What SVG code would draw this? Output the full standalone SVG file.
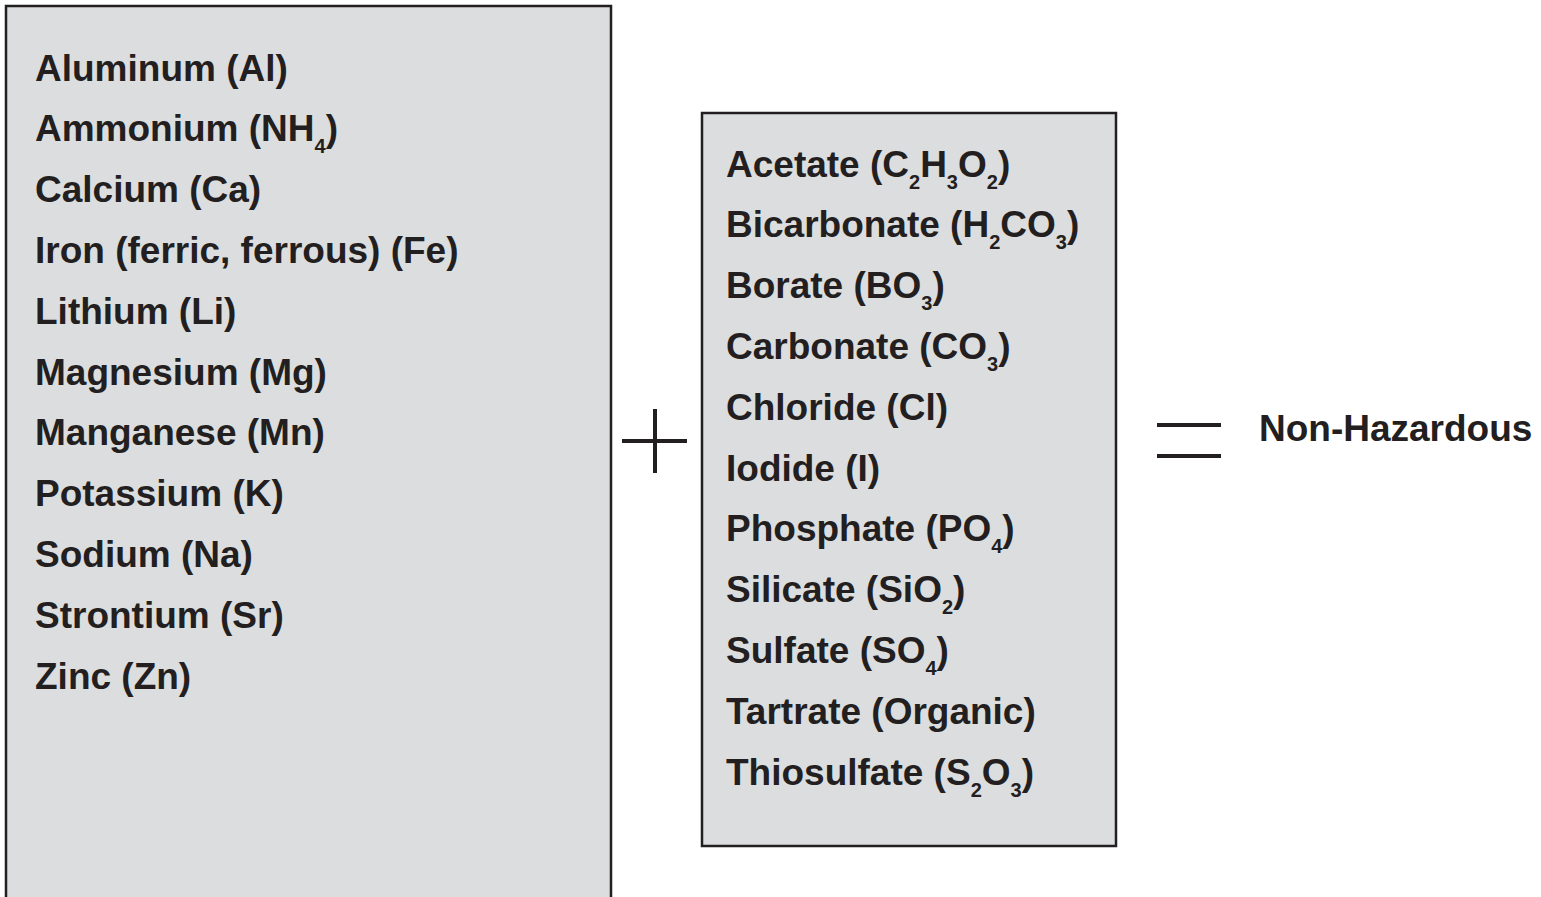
<svg xmlns="http://www.w3.org/2000/svg" width="1541" height="897" viewBox="0 0 1541 897">
<style>
.box{fill:#dcdddf;stroke:#231f20;stroke-width:2.5}
.t{font-family:"Liberation Sans",Arial,Helvetica,sans-serif;font-weight:bold;font-size:37px;fill:#231f20}
.s{font-size:20px}
.op{stroke:#231f20;stroke-width:4;fill:none}
</style>
<rect width="1541" height="897" fill="#ffffff"/>
<g id="cations">
<rect class="box" x="6" y="6" width="605" height="900"/>
<text class="t" x="35" y="80.5">Aluminum (Al)</text>
<text class="t" x="35" y="141.3">Ammonium (NH<tspan class="s" dy="12">4</tspan><tspan dy="-12">)</tspan></text>
<text class="t" x="35" y="202.1">Calcium (Ca)</text>
<text class="t" x="35" y="262.9">Iron (ferric, ferrous) (Fe)</text>
<text class="t" x="35" y="323.7">Lithium (Li)</text>
<text class="t" x="35" y="384.5">Magnesium (Mg)</text>
<text class="t" x="35" y="445.3">Manganese (Mn)</text>
<text class="t" x="35" y="506.1">Potassium (K)</text>
<text class="t" x="35" y="566.9">Sodium (Na)</text>
<text class="t" x="35" y="627.7">Strontium (Sr)</text>
<text class="t" x="35" y="688.5">Zinc (Zn)</text>
</g>
<g id="anions">
<rect class="box" x="702" y="113" width="414" height="733"/>
<text class="t" x="726" y="176.5">Acetate (C<tspan class="s" dy="12">2</tspan><tspan dy="-12">H</tspan><tspan class="s" dy="12">3</tspan><tspan dy="-12">O</tspan><tspan class="s" dy="12">2</tspan><tspan dy="-12">)</tspan></text>
<text class="t" x="726" y="237.3">Bicarbonate (H<tspan class="s" dy="12">2</tspan><tspan dy="-12">CO</tspan><tspan class="s" dy="12">3</tspan><tspan dy="-12">)</tspan></text>
<text class="t" x="726" y="298.1">Borate (BO<tspan class="s" dy="12">3</tspan><tspan dy="-12">)</tspan></text>
<text class="t" x="726" y="358.9">Carbonate (CO<tspan class="s" dy="12">3</tspan><tspan dy="-12">)</tspan></text>
<text class="t" x="726" y="419.7">Chloride (Cl)</text>
<text class="t" x="726" y="480.5">Iodide (I)</text>
<text class="t" x="726" y="541.3">Phosphate (PO<tspan class="s" dy="12">4</tspan><tspan dy="-12">)</tspan></text>
<text class="t" x="726" y="602.1">Silicate (SiO<tspan class="s" dy="12">2</tspan><tspan dy="-12">)</tspan></text>
<text class="t" x="726" y="662.9">Sulfate (SO<tspan class="s" dy="12">4</tspan><tspan dy="-12">)</tspan></text>
<text class="t" x="726" y="723.7">Tartrate (Organic)</text>
<text class="t" x="726" y="784.5">Thiosulfate (S<tspan class="s" dy="12">2</tspan><tspan dy="-12">O</tspan><tspan class="s" dy="12">3</tspan><tspan dy="-12">)</tspan></text>
</g>
<g id="plus">
<line class="op" x1="622" y1="441" x2="687" y2="441"/>
<line class="op" x1="655" y1="409" x2="655" y2="473"/>
</g>
<g id="equals">
<line class="op" x1="1157" y1="425" x2="1221" y2="425"/>
<line class="op" x1="1157" y1="456" x2="1221" y2="456"/>
</g>
<g id="result">
<text class="t" x="1259" y="440.5">Non-Hazardous</text>
</g>
</svg>
